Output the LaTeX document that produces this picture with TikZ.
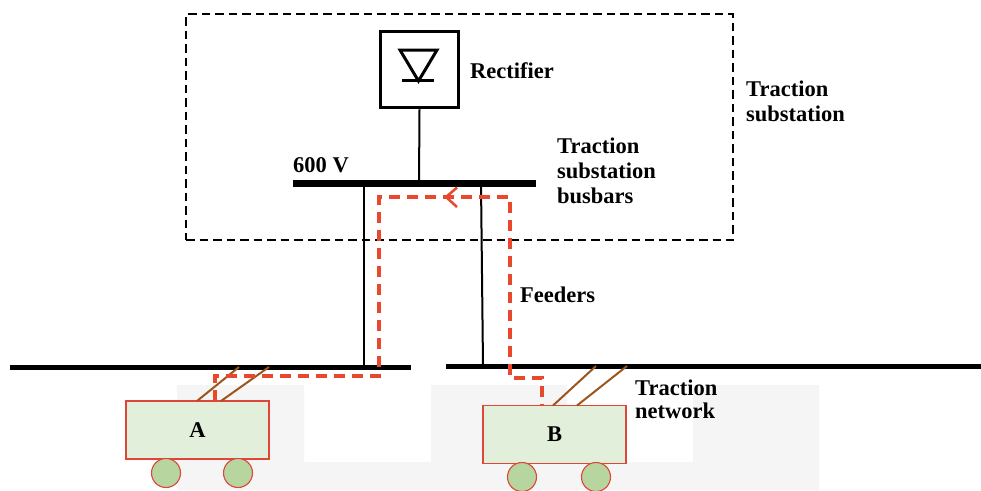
\documentclass[tikz,border=0pt]{standalone}
\usepackage{fontspec}
\setmainfont{Liberation Serif}
\definecolor{flow}{RGB}{232,72,44}
\definecolor{carfill}{RGB}{226,239,218}
\definecolor{carline}{RGB}{222,70,58}
\definecolor{wheelfill}{RGB}{183,213,158}
\definecolor{polecol}{RGB}{156,86,28}
\definecolor{bggrey}{RGB}{245,245,245}
\tikzset{
  lbl/.style={font=\bfseries\fontsize{22.5}{25}\selectfont, inner sep=0pt, anchor=base west},
  carbox/.style={draw=carline, line width=1.3pt, fill=carfill, minimum width=143pt, minimum height=58pt, inner sep=0pt, font=\bfseries\fontsize{22.5}{25}\selectfont},
  wheel/.style={circle, draw=carline, line width=1.1pt, fill=wheelfill, minimum size=29pt, inner sep=0pt},
  pole/.style={draw=polecol, line width=2pt},
  wire/.style={draw=black, line width=2pt},
  bus/.style={draw=black, line width=7pt},
  netline/.style={draw=black, line width=5pt},
  flowpath/.style={draw=flow, line width=3.5pt, dash pattern=on 11pt off 7pt},
  substbox/.style={draw=black, line width=2pt, dash pattern=on 8.5pt off 5pt}
}
\begin{document}
\begin{tikzpicture}[x=1pt,y=-1pt]
\useasboundingbox (0,0) rectangle (981,490);
\fill[white] (0,0) rectangle (981,490);
% light grey background pieces
\fill[bggrey] (177,385) -- (304,385) -- (304,462) -- (431,462) -- (431,385) -- (567,385) -- (567,462) -- (693,462) -- (693,385) -- (819,385) -- (819,490) -- (177,490) -- cycle;

% substation dashed box
\node[substbox, minimum width=547pt, minimum height=226pt, inner sep=0pt] (subst) at (459.5,127) {};

% rectifier
\node[draw, line width=3.5pt, minimum width=78pt, minimum height=76pt, inner sep=0pt] (rect) at (419.5,69.5) {};
\draw[line width=3pt, line join=miter] (400,50) -- (437,50) -- (418.5,81) -- cycle;
\draw[line width=3pt] (402,80.5) -- (434,80.5);

% busbar
\coordinate (busL) at (293,183.5);
\coordinate (busR) at (536,183.5);
\draw[bus] (busL) -- (busR);
\coordinate (busTap) at (419,183.5);
\draw[wire] (rect.south) -- (busTap);

% traction network lines
\coordinate (netLa) at (10,367);
\coordinate (netLb) at (411,367);
\coordinate (netRa) at (446,366);
\coordinate (netRb) at (981,366);
\draw[netline] (netLa) -- (netLb);
\draw[netline] (netRa) -- (netRb);

% feeders
\coordinate (fAt) at (364,183.5);
\coordinate (fAb) at (364,367);
\coordinate (fBt) at (481,183.5);
\coordinate (fBb) at (483,366);
\draw[wire] (fAt) -- (fAb);
\draw[wire] (fBt) -- (fBb);

% cars
\node[carbox] (carA) at (197.5,430) {A};
\node[carbox] (carB) at (554.5,434.5) {B};
\node[wheel] (wA1) at (166,473) {};
\node[wheel] (wA2) at (238,473) {};
\node[wheel] (wB1) at (522,477) {};
\node[wheel] (wB2) at (596,477) {};

% trolley poles
\coordinate (pA1b) at (197,401); \coordinate (pA1t) at (239,367);
\coordinate (pA2b) at (221,401); \coordinate (pA2t) at (269,367);
\coordinate (pB1b) at (553,405.5); \coordinate (pB1t) at (596,366);
\coordinate (pB2b) at (577,405.5); \coordinate (pB2t) at (627,366);
\draw[pole] (pA1b) -- (pA1t);
\draw[pole] (pA2b) -- (pA2t);
\draw[pole] (pB1b) -- (pB1t);
\draw[pole] (pB2b) -- (pB2t);

% current flow path
\coordinate (flA) at (215,401);
\coordinate (flC1) at (379,376);
\coordinate (flC2) at (510,197);
\coordinate (flC3) at (542,378);
\coordinate (flB) at (542,405.5);
\draw[flowpath] (flA) |- (flC1) |- (flC2) |- (flC3) -- (flB);
\coordinate (chev) at (446,197);
\draw[flow, line width=2.5pt] (457,187.5) -- (chev) -- (457,207);

% labels
\node[lbl] (lRect) at (470,78) {Rectifier};
\node[lbl] (lTS1) at (746,96) {Traction};
\node[lbl] (lTS2) at (746,121) {substation};
\node[lbl] (lBB1) at (557,153) {Traction};
\node[lbl] (lBB2) at (557,178) {substation};
\node[lbl] (lBB3) at (557,203) {busbars};
\node[lbl] (lV) at (293,172) {600 V};
\node[lbl] (lFd) at (520,302) {Feeders};
\node[lbl] (lTN1) at (635,395) {Traction};
\node[lbl] (lTN2) at (635,418) {network};
\end{tikzpicture}
\end{document}
